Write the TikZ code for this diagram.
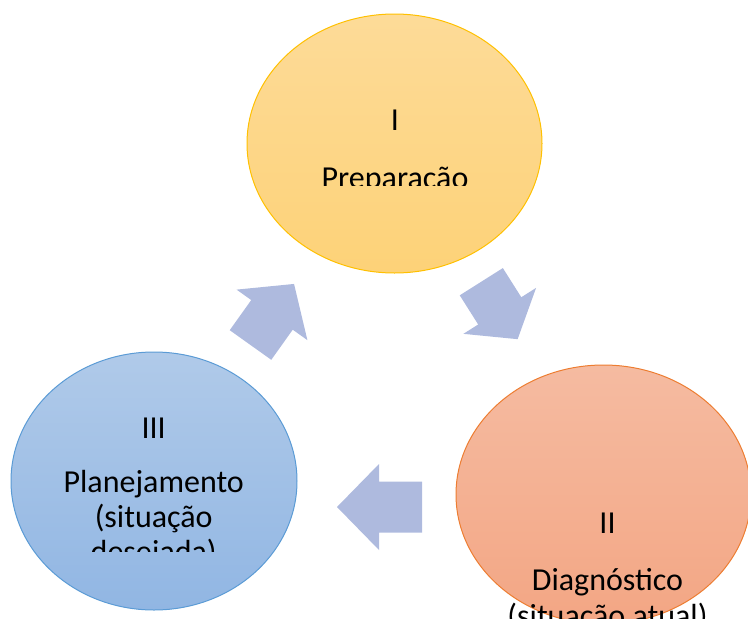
\documentclass[tikz,border=0pt]{standalone}
\usepackage{fontspec}
\setmainfont{Carlito}
\usetikzlibrary{shapes.geometric}
\definecolor{prepTop}{RGB}{253,219,152}
\definecolor{prepBot}{RGB}{253,210,120}
\definecolor{prepLine}{RGB}{255,192,0}
\definecolor{diagTop}{RGB}{245,187,161}
\definecolor{diagBot}{RGB}{243,166,132}
\definecolor{diagLine}{RGB}{237,125,49}
\definecolor{planTop}{RGB}{176,202,233}
\definecolor{planBot}{RGB}{145,182,227}
\definecolor{planLine}{RGB}{91,155,213}
\definecolor{arrBlue}{RGB}{174,186,222}

\begin{document}
\begin{tikzpicture}[x=1pt,y=-1pt]
      \tikzstyle{enode} = [ellipse, line width=1pt, inner sep=0pt, minimum width=295pt, minimum height=259pt]
      \tikzstyle{tnode} = [inner sep=0pt, align=center, anchor=base, font=\fontsize{32}{36}\selectfont]
      \tikzstyle{barr} = [fill=arrBlue, draw=none]

      \useasboundingbox (0,0) rectangle (748,619);
      \clip (0,0) rectangle (748,619);

      \node[enode, draw=prepLine, top color=prepTop, bottom color=prepBot] (prep) at (394.5,143.5) {};
      \node[enode, draw=diagLine, top color=diagTop, bottom color=diagBot] (diag) at (603.5,494.5) {};
      \node[enode, draw=planLine, top color=planTop, bottom color=planBot,
        minimum width=286pt, minimum height=258pt] (plan) at (154,481) {};

      % texts, placed by their last line and cut off at the bottom of their boxes
      \begin{scope}
        \clip (247,14) rectangle (542,185);
        \node[tnode] (prepText) at (395,188.5) {I\\[22.5pt] Preparação};
      \end{scope}
      \node[tnode] (diagText) at (607.5,626) {II\\[21pt] Diagnóstico\\ (situação atual)};
      \begin{scope}
        \clip (11,352) rectangle (297,551);
        \node[tnode, font=\fontsize{32}{35}\selectfont] (planText) at (153.7,562.5) {III\\[19.5pt] Planejamento\\ (situação\\ desejada)};
      \end{scope}

      % block arrows between the circles
      \begin{scope}[shift={(250.5,345)}, rotate=54.5]
        \fill[barr] (0,-25.5) -- (37,-25.5) -- (37,-43.5) -- (75,0) -- (37,43.5) -- (37,25.5) -- (0,25.5) -- cycle;
      \end{scope}
      \begin{scope}[shift={(481.3,281.7)}, rotate=-57.7]
        \fill[barr] (0,-25.5) -- (34.5,-25.5) -- (34.5,-43) -- (68,0) -- (34.5,43) -- (34.5,25.5) -- (0,25.5) -- cycle;
      \end{scope}
      \begin{scope}[shift={(422,507)}, rotate=180]
        \fill[barr] (0,-25.5) -- (43,-25.5) -- (43,-43) -- (85,0) -- (43,43) -- (43,25.5) -- (0,25.5) -- cycle;
      \end{scope}
\end{tikzpicture}
\end{document}
